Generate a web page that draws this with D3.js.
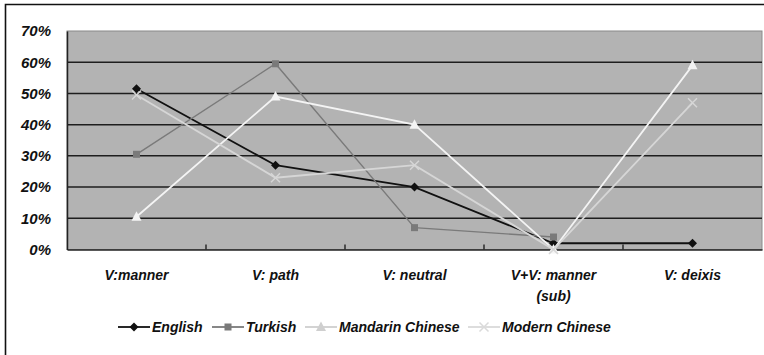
<!DOCTYPE html>
<html><head><meta charset="utf-8">
<script src="https://cdn.jsdelivr.net/npm/d3@7"></script>
<style>
html,body{margin:0;padding:0;background:#fff;}
svg{display:block;}
text{font-family:"Liberation Sans",Arial,sans-serif;font-weight:bold;font-style:italic;fill:#111;}
</style></head>
<body>
<svg id="chart" width="764" height="355"></svg>
<script>
const categories = ["V:manner", "V: path", "V: neutral", "V+V: manner\n(sub)", "V: deixis"];
const seriesNames = ["English", "Turkish", "Mandarin Chinese", "Modern Chinese"];
const english  = [51.5, 27, 20, 2, 2];
const turkish  = [30.5, 59.5, 7, 4, null];
const mandarin = [10.5, 49, 40, 0, 59];
const modern   = [49.5, 23, 27, 0, 47];
const yTicks = [0, 10, 20, 30, 40, 50, 60, 70];

const seriesValues = [english, turkish, mandarin, modern];
const colors = ["#111111", "#7a7a7a", "#f4f4f4", "#d6d6d6"];
const legendColors = ["#111111", "#7a7a7a", "#cfcfcf", "#dadada"];
const markers = ["diamond", "square", "triangle", "cross"];

const svg = d3.select("#chart");
const W = 764, H = 355;
const plot = {left: 67, right: 762, top: 31, bottom: 249.5};

// outer frame (cropped at right and bottom)
svg.append("path").attr("d", `M5.5,${H+2} L5.5,4.5 L${W+2},4.5`)
  .attr("fill", "none").attr("stroke", "#111").attr("stroke-width", 1.6);

const x = d3.scaleBand().domain(categories).range([plot.left, plot.right]);
const y = d3.scaleLinear().domain([0, 70]).range([plot.bottom, plot.top]);

// plot background
svg.append("rect").attr("x", plot.left).attr("y", plot.top)
  .attr("width", plot.right - plot.left).attr("height", plot.bottom - plot.top)
  .attr("fill", "#b3b3b3").attr("stroke", "#8a8a8a").attr("stroke-width", 1);

// gridlines
svg.append("g").selectAll("line").data(yTicks.filter(d => d > 0 && d < 70)).join("line")
  .attr("x1", plot.left).attr("x2", plot.right)
  .attr("y1", d => y(d)).attr("y2", d => y(d))
  .attr("stroke", "#1e1e1e").attr("stroke-width", 1.5);

// y axis
const yAxis = d3.axisLeft(y).tickValues(yTicks).tickFormat(d => d + "%").tickSize(0).tickPadding(16);
const gy = svg.append("g").attr("transform", `translate(${plot.left},0)`).call(yAxis);
gy.select(".domain").attr("stroke", "#222").attr("stroke-width", 1.5);
gy.selectAll("text").style("font-size", "15px").attr("fill", "#111")
  .style("font-family", "'Liberation Sans', Arial, sans-serif");

// x axis
const xAxis = d3.axisBottom(x).tickSize(0).tickFormat("");
const gx = svg.append("g").attr("transform", `translate(0,${plot.bottom})`).call(xAxis);
gx.select(".domain").attr("stroke", "#222").attr("stroke-width", 1.6);
// inward ticks at category boundaries
const bounds = categories.slice(1).map(c => x(c));
svg.append("g").selectAll("line").data(bounds).join("line")
  .attr("x1", d => d).attr("x2", d => d)
  .attr("y1", plot.bottom).attr("y2", plot.bottom - 5)
  .attr("stroke", "#222").attr("stroke-width", 1.4);

// category labels
const cx = c => x(c) + x.bandwidth() / 2;
const catG = svg.append("g");
categories.forEach(c => {
  const t = catG.append("text").attr("x", cx(c)).attr("y", 280).attr("text-anchor", "middle")
    .style("font-size", "14px");
  c.split("\n").forEach((line, i) => {
    t.append("tspan").attr("x", cx(c)).attr("dy", i === 0 ? 0 : 21).text(line);
  });
});

// lines and markers
function drawMarker(g, type, px, py, color) {
  if (type === "diamond") {
    g.append("path").attr("d", `M${px},${py-4.5} L${px+4.5},${py} L${px},${py+4.5} L${px-4.5},${py} Z`).attr("fill", color);
  } else if (type === "square") {
    g.append("rect").attr("x", px-3.5).attr("y", py-3.5).attr("width", 7).attr("height", 7).attr("fill", color);
  } else if (type === "triangle") {
    g.append("path").attr("d", `M${px},${py-5.5} L${px+5},${py+4} L${px-5},${py+4} Z`).attr("fill", color);
  } else {
    g.append("path").attr("d", `M${px-4.5},${py-4.5} L${px+4.5},${py+4.5} M${px+4.5},${py-4.5} L${px-4.5},${py+4.5}`)
      .attr("stroke", color).attr("stroke-width", 1.5);
  }
}

const line = d3.line().defined(d => d[1] !== null).x(d => cx(d[0])).y(d => y(d[1]));
seriesValues.forEach((vals, i) => {
  const g = svg.append("g");
  const pts = categories.map((c, j) => [c, vals[j]]);
  g.append("path").attr("d", line(pts)).attr("fill", "none")
    .attr("stroke", colors[i]).attr("stroke-width", i === 1 ? 1.4 : 1.8);
  pts.filter(p => p[1] !== null).forEach(p => drawMarker(g, markers[i], cx(p[0]), y(p[1]), colors[i]));
});

// legend
const legendX = [118, 212, 305, 468];
const legendY = 327;
const lg = svg.append("g");
seriesNames.forEach((name, i) => {
  const lx = legendX[i];
  lg.append("line").attr("x1", lx).attr("x2", lx + 32).attr("y1", legendY).attr("y2", legendY)
    .attr("stroke", legendColors[i]).attr("stroke-width", 1.8);
  drawMarker(lg, markers[i], lx + 16, legendY, legendColors[i]);
  lg.append("text").attr("x", lx + 34).attr("y", legendY + 5).style("font-size", "14px").text(name);
});
</script>
</body></html>
